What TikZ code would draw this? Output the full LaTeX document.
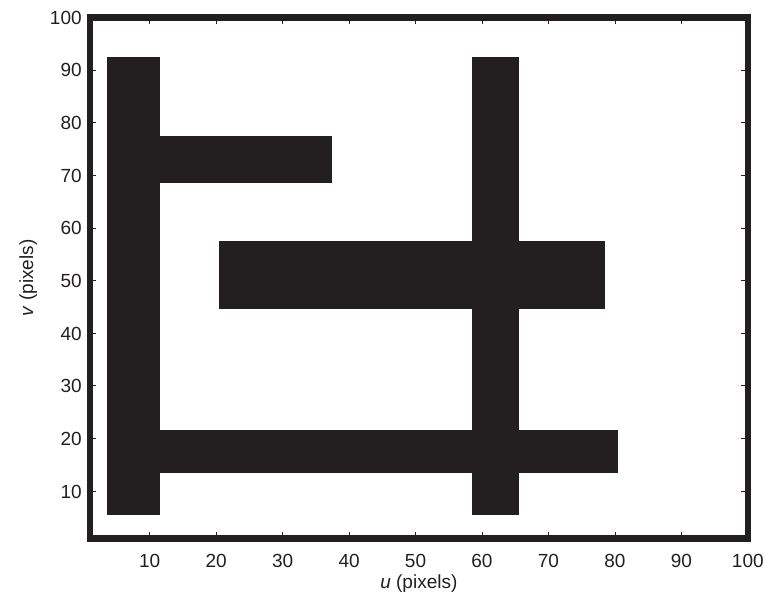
\documentclass[tikz,border=0pt]{standalone}
\usepackage{fontspec}
\setmainfont{Liberation Sans}
\definecolor{ink}{RGB}{35,31,32}
\begin{document}
\begin{tikzpicture}[x=6.645pt,y=5.2625pt,
  lbl/.style={font=\fontsize{19}{22}\selectfont, text=ink, inner sep=0pt},
  bar/.style={fill=ink},
  tick/.style={draw=ink, line width=0.7pt},
  frame/.style={draw=ink, line width=6.5pt}]
\useasboundingbox (-12.528,-9.767) rectangle (102.59,103.30);
% pixel blocks
\fill[bar] (3.5,5.5) rectangle (11.5,92.5);
\fill[bar] (11.5,68.5) rectangle (37.5,77.5);
\fill[bar] (20.5,44.5) rectangle (78.5,57.5);
\fill[bar] (58.5,5.5) rectangle (65.5,92.5);
\fill[bar] (11.5,13.5) rectangle (80.5,21.5);
% axes box
\draw[frame] (1,1) rectangle (100,100);
\foreach \t in {10,20,...,90} {
  \draw[tick] (\t,1) -- ++(0,6.5pt);
  \draw[tick] (\t,100) -- ++(0,-6.5pt);
  \draw[tick] (1,\t) -- ++(6.5pt,0);
  \draw[tick] (100,\t) -- ++(-6.5pt,0);
}
\foreach \t in {10,20,...,100} {
  \node[lbl, anchor=base] (xl\t) at ([yshift=-29pt]\t,1) {\t};
  \node[lbl, anchor=base east] (yl\t) at ([xshift=-8pt,yshift=-7pt]1,\t) {\t};
}
\node[lbl, anchor=base] (xt) at (50.5,-8.44) {\textit{u} (pixels)};
\node[lbl, anchor=base, rotate=90] (yt) at (-7.56,50.5) {\textit{v} (pixels)};
\end{tikzpicture}
\end{document}
